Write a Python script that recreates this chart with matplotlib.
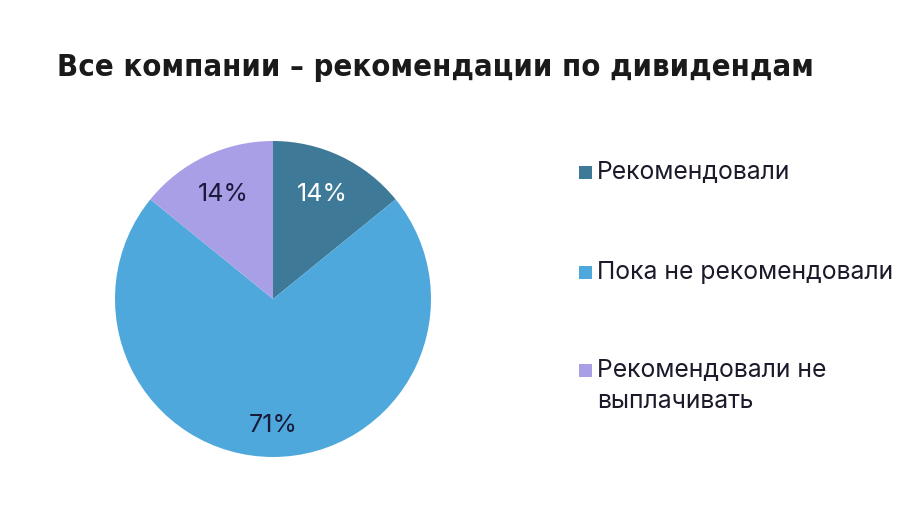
import matplotlib
matplotlib.use('Agg')
import matplotlib.pyplot as plt
from matplotlib.patches import Rectangle
import numpy as np

# Data
categories = ['Рекомендовали', 'Пока не рекомендовали', 'Рекомендовали не\nвыплачивать']
shares = [14, 71, 14]
colors = ['#3e7a98', '#4fa8dc', '#a89fe6']
label_colors = ['white', '#1a1a3a', '#1a1a3a']
title = 'Все компании – рекомендации по дивидендам'

plt.rcParams['font.family'] = ['Inter', 'DejaVu Sans']

W, H = 912, 520
fig = plt.figure(figsize=(W / 100, H / 100), dpi=100)
ax = fig.add_axes([115 / W, 1 - 457 / H, 316 / W, 316 / H])

wedges, texts = ax.pie(shares, colors=colors, startangle=90, counterclock=False,
                       radius=1.0, wedgeprops=dict(linewidth=0))
ax.set_aspect('equal')
ax.set_xlim(-1, 1)
ax.set_ylim(-1, 1)

# percentage labels
for w, v, c in zip(wedges, shares, label_colors):
    mid = np.deg2rad((w.theta1 + w.theta2) / 2)
    r = 0.8 if v > 50 else 0.73
    ax.text(r * np.cos(mid), r * np.sin(mid), f'{v}%', ha='center', va='center',
            fontsize=18, color=c)

fig.text(57 / W, 1 - 67 / H, title, fontsize=22.2,
         family=['DejaVu Sans'], fontstretch='condensed', fontweight='bold',
         color='#1a1a1a', ha='left', va='center')

# legend, drawn by hand so the square sits on the first line
row_y = [172, 272, 370]
sq = 13
for lab, col, y in zip(categories, colors, row_y):
    fig.patches.append(Rectangle((579 / W, 1 - (y + sq / 2) / H), sq / W, sq / H,
                                 transform=fig.transFigure, facecolor=col, edgecolor='none'))
    fig.text(597 / W, 1 - (y - 11) / H, lab, fontsize=17.8, color='#1a1a2a',
             ha='left', va='top', linespacing=1.45)

fig.savefig('out.png', dpi=100, facecolor='white')
